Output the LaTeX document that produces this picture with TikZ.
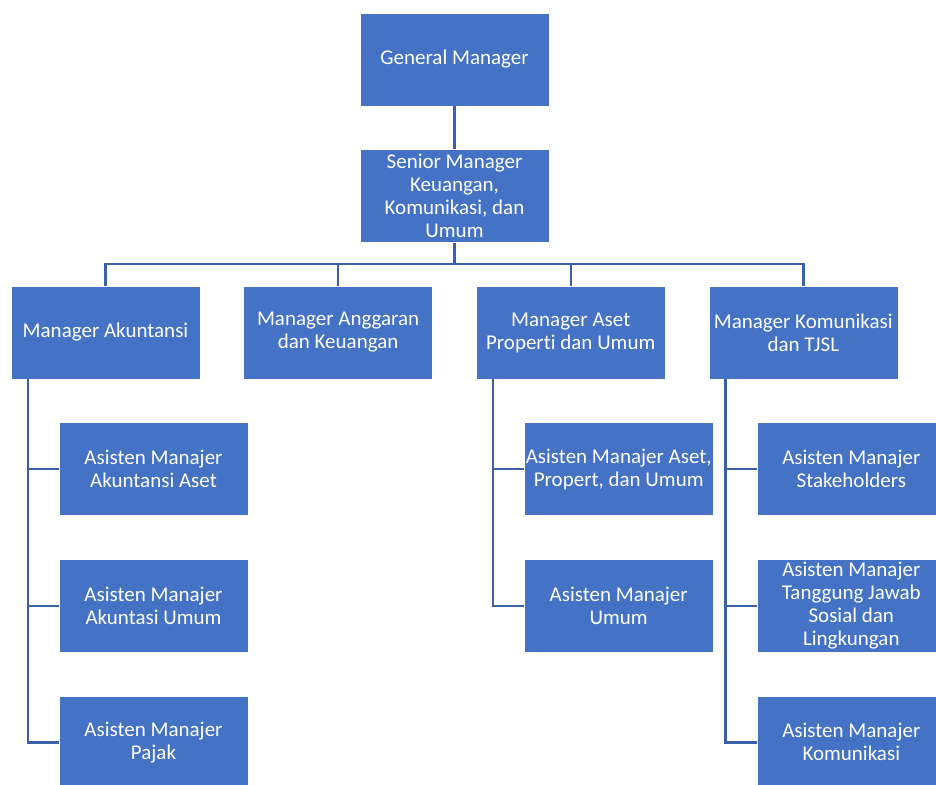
\documentclass[tikz,border=0pt]{standalone}
\usepackage{fontspec}
\setmainfont{Carlito}[RawFeature=-liga]
\usepackage{xcolor}
\usetikzlibrary{positioning, calc}
\definecolor{boxblue}{RGB}{68,114,196}
\definecolor{linkblue}{RGB}{58,96,170}
\tikzset{
    unit/.style={rectangle, minimum width=189pt, minimum height=93pt,
                 align=center, draw=white, line width=0.6pt,
                 fill=boxblue, text=white, inner sep=0pt,
                 font=\fontsize{21}{23}\selectfont},
    link/.style={line width=2.4pt, linkblue}
}

\begin{document}
\begin{tikzpicture}[x=1pt, y=1pt, node distance=43pt]
    \useasboundingbox (0,0) rectangle (936,-784);
    \clip (0,0) rectangle (936,-784);

    % General Manager
    \node[unit] (gm) at (454.5,-59.5) {General Manager};

    % Senior Manager
    \node[unit, below=of gm] (sm)
        {Senior Manager\\ Keuangan,\\ Komunikasi, dan\\ Umum};

    % Managers
    \node[unit] (mak) at (105.5,-332.5) {Manager Akuntansi};
    \node[unit, right=of mak] (mag) {Manager Anggaran\\ dan Keuangan};
    \node[unit, right=of mag] (mas) {Manager Aset\\ Properti dan Umum};
    \node[unit, right=of mas] (mko) {Manager Komunikasi\\ dan TJSL};

    % Asisten Manajer (Akuntansi)
    \node[unit, below right=43pt and 48pt of mak.south west] (aak1)
        {Asisten Manajer\\ Akuntansi Aset};
    \node[unit, below=of aak1] (aak2) {Asisten Manajer\\ Akuntasi Umum};
    \node[unit, below=of aak2] (aak3) {Asisten Manajer\\ Pajak};

    % Asisten Manajer (Aset)
    \node[unit, below right=43pt and 48pt of mas.south west] (aas1)
        {Asisten Manajer Aset,\\ Propert, dan Umum};
    \node[unit, below=of aas1] (aas2) {Asisten Manajer\\ Umum};

    % Asisten Manajer (Komunikasi)
    \node[unit, below right=43pt and 48pt of mko.south west] (ako1)
        {Asisten Manajer\\ Stakeholders};
    \node[unit, below=of ako1] (ako2)
        {Asisten Manajer\\ Tanggung Jawab\\ Sosial dan\\ Lingkungan};
    \node[unit, below=of ako2] (ako3) {Asisten Manajer\\ Komunikasi};

    % Lines
    \draw[link] (gm) -- (sm);
    \foreach \m in {mak, mag, mas, mko}
        \draw[link] (sm.south) -- ++(0,-21) -| (\m.north);

    \coordinate (mak-t) at ($(mak.south west)+(17,0)$);
    \coordinate (mas-t) at ($(mas.south west)+(17,0)$);
    \coordinate (mko-t) at ($(mko.south west)+(17,0)$);
    \foreach \a in {aak1, aak2, aak3}
        \draw[link] (mak-t) |- (\a.west);
    \foreach \a in {aas1, aas2}
        \draw[link] (mas-t) |- (\a.west);
    \foreach \a in {ako1, ako2, ako3}
        \draw[link] (mko-t) |- (\a.west);
\end{tikzpicture}
\end{document}
